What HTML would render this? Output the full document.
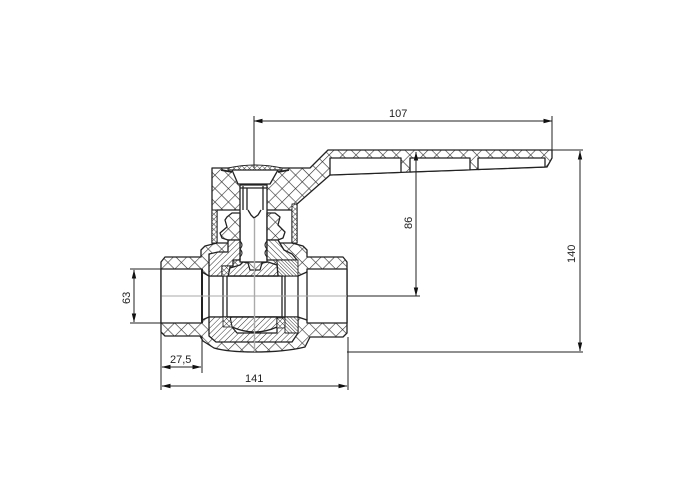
<!DOCTYPE html>
<html><head><meta charset="utf-8"><style>
html,body{margin:0;padding:0;background:#fff;width:700px;height:500px;overflow:hidden}
svg{display:block}
text{font-family:"Liberation Sans",sans-serif;font-size:11px;fill:#222}
</style></head><body>
<svg width="700" height="500" viewBox="0 0 700 500" xmlns="http://www.w3.org/2000/svg">
<defs>
<pattern id="x" width="9.5" height="9.5" patternUnits="userSpaceOnUse" patternTransform="rotate(45)"><rect width="9.5" height="9.5" fill="#fff"/><path d="M0 0H9.5M0 0V9.5" stroke="#333" stroke-width="1.2" fill="none"/></pattern>
<pattern id="xs" width="3.6" height="3.6" patternUnits="userSpaceOnUse" patternTransform="rotate(45)"><rect width="3.6" height="3.6" fill="#fff"/><path d="M0 0H3.6M0 0V3.6" stroke="#333" stroke-width="0.9" fill="none"/></pattern>
<pattern id="h" width="4" height="4" patternUnits="userSpaceOnUse" patternTransform="rotate(45)"><rect width="4" height="4" fill="#fff"/><path d="M0 0V4" stroke="#333" stroke-width="1" fill="none"/></pattern>
<pattern id="g" width="4" height="4" patternUnits="userSpaceOnUse" patternTransform="rotate(-45)"><rect width="4" height="4" fill="#fff"/><path d="M0 0V4" stroke="#333" stroke-width="1" fill="none"/></pattern>
<pattern id="hd" width="2.4" height="2.4" patternUnits="userSpaceOnUse" patternTransform="rotate(-45)"><rect width="2.4" height="2.4" fill="#fff"/><path d="M0 0V2.4" stroke="#333" stroke-width="1" fill="none"/></pattern>
<marker id="a" markerWidth="9" markerHeight="6" refX="8.5" refY="3" orient="auto-start-reverse" markerUnits="userSpaceOnUse"><path d="M0 .8L9 3L0 5.2Z" fill="#111"/></marker>
</defs>
<g stroke="#222" stroke-width="1.3" fill="none" stroke-linejoin="round">
<!-- body + pipes -->
<path fill="url(#x)" d="M161 262L165 257H201V250L205 246L217 243H292L303 246L307 250V257H343L347 262V333L343 337H310L305 347Q285 352 254 352Q228 352 214 348L203 341L200 336H165L161 332Z"/>
<!-- bores -->
<path fill="#fff" d="M161 269H202V272L209 276H298L307 272V269H347V323H307V320L298 317H209L202 320V323H161Z"/>
<!-- handle + cap -->
<path fill="url(#x)" d="M212 168H310L328 150H552V158L547 167L330 175L297 204V243H292V210H217V243H212Z"/>
<path fill="#fff" d="M330 158H401V172.4L330 175Z M410 158H470V169.9L410 172Z M478 158H545V167L478 169.5Z"/>
<path fill="url(#xs)" stroke-width=".9" d="M212 183V243H217V210H212Z M292 204H297V243H292Z"/>
<!-- cap button -->
<path fill="url(#xs)" stroke-width=".9" d="M228 168Q255 162 282 168V170H228Z"/>
<path fill="#fff" d="M232 170H278L270 184H238Z"/>
<path stroke-width="1.8" d="M221 170L232 172M289 170L278 172"/>
<!-- stem socket -->
<path fill="#fff" d="M240 185H267V262H240Z"/>
<path d="M240 188H267M243 186V210M263 186V210M247 188V210"/>
<path d="M248 210L251 215L254 218L258 215L261 210"/>
<path stroke-width="1" d="M240 241Q244 245 240 249Q244 253 240 257M267 241Q263 245 267 249Q263 253 267 257"/>
<!-- neck seals -->
<path fill="url(#x)" d="M227 217L232 213H240V240H228L222 238L220 233L227 227L225 220Z"/>
<path fill="url(#x)" d="M267 213H275L280 217L278 225L285 232L283 238L278 240H267Z"/>
<!-- upper hatched parts -->
<path fill="url(#h)" d="M228 240H240V260H233V266H222V276H209V254L218 252L228 252Z"/>
<path fill="url(#g)" d="M267 240H278L284 250L292 254L297 260H267Z"/>
<path fill="url(#hd)" stroke-width=".9" d="M277 260H298V276H278Z"/>
<path fill="url(#h)" d="M228 276L230 268L240 265L243 262L248 263L250 270H260L262 263L268 262L277 265L278 276Z"/>
<path fill="url(#xs)" stroke-width=".8" d="M222 266H230L228 276H222Z"/>
<!-- lower hatched parts -->
<path fill="url(#h)" d="M209 317H298V333L292 342H216L209 336Z"/>
<path fill="#fff" d="M232 327L237 333H277V327Z"/>
<path fill="url(#h)" d="M230 317H277V327Q255 337 232 327Z"/>
<path fill="url(#xs)" stroke-width=".8" d="M223 317H230L232 327H223Z M277 318H285V328H277Z"/>
<path fill="url(#hd)" stroke-width=".9" d="M285 317H298V333H285Z"/>
<!-- bore verticals -->
<path stroke-width="2" d="M202 269V323"/>
<path d="M209 276V317M223 276V317M227 276V317M282 276V317M285 276V317M298 276V317M307 272V320"/>
<path d="M227 276H282M227 317H282"/>
</g>
<!-- axes + dimension lines -->
<g stroke="#222" stroke-width="1" fill="none">
<path stroke="#aaa" d="M161 296H347"/>
<path stroke="#aaa" stroke-width="1.4" d="M254.5 218V352"/>
<path d="M254 116V168M552 116V150"/>
<path d="M254 121H552" marker-start="url(#a)" marker-end="url(#a)"/>
<path d="M552 150H583M347 352H583M347 296H420"/>
<path d="M580 151V351" marker-start="url(#a)" marker-end="url(#a)"/>
<path d="M416 152V296" marker-start="url(#a)" marker-end="url(#a)"/>
<path d="M130 269H161M130 323H161"/>
<path d="M134 270V322" marker-start="url(#a)" marker-end="url(#a)"/>
<path d="M161 262V390M202 336V373M348 337V390"/>
<path d="M162 367H201" marker-start="url(#a)" marker-end="url(#a)"/>
<path d="M162 386H347" marker-start="url(#a)" marker-end="url(#a)"/>
</g>
<text x="389" y="117">107</text>
<text x="170" y="363">27,5</text>
<text x="245" y="382">141</text>
<text transform="translate(412,229) rotate(-90)">86</text>
<text transform="translate(575,263) rotate(-90)">140</text>
<text transform="translate(130,304) rotate(-90)">63</text>
</svg>
</body></html>
